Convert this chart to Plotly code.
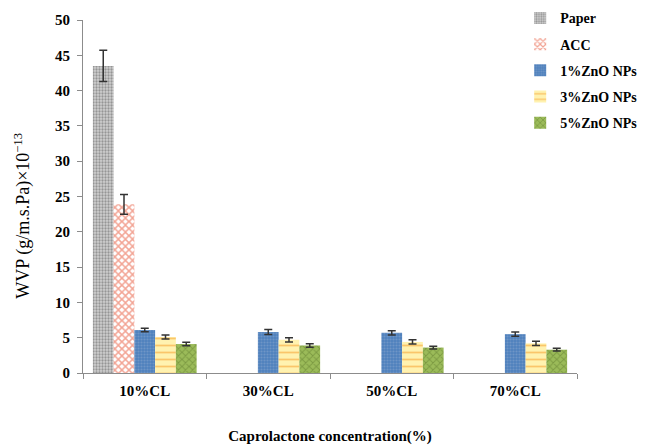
import plotly.graph_objects as go

categories = ["10%CL", "30%CL", "50%CL", "70%CL"]
series_names = ["Paper", "ACC", "1%ZnO NPs", "3%ZnO NPs", "5%ZnO NPs"]
paper = [43.5, None, None, None]
acc = [23.9, None, None, None]
zno1 = [6.1, 5.8, 5.7, 5.5]
zno3 = [5.1, 4.7, 4.4, 4.2]
zno5 = [4.1, 3.9, 3.6, 3.3]
paper_err = [2.2, None, None, None]
acc_err = [1.4, None, None, None]
zno1_err = [0.25, 0.35, 0.3, 0.3]
zno3_err = [0.3, 0.3, 0.3, 0.3]
zno5_err = [0.25, 0.25, 0.2, 0.2]
y_title = "WVP (g/m.s.Pa)×10<sup>−13</sup>"
x_title = "Caprolactone concentration(%)"

values = [paper, acc, zno1, zno3, zno5]
errors = [paper_err, acc_err, zno1_err, zno3_err, zno5_err]
styles = [
    dict(bgcolor="#d0d0d0", fgcolor="#5a5a5a", shape=".", size=3, solidity=0.45),
    dict(bgcolor="#ffffff", fgcolor="#e5492a", shape="x", size=5, solidity=0.5),
    dict(bgcolor="#4f81bd", fgcolor="#8ea9cf", shape=".", size=3, solidity=0.4),
    dict(bgcolor="#fff2b0", fgcolor="#f59a23", shape="-", size=7, solidity=0.25),
    dict(bgcolor="#9bbb59", fgcolor="#5f7a2e", shape="x", size=5, solidity=0.35),
]

fig = go.Figure()
for name, vals, errs, st in zip(series_names, values, errors, styles):
    fig.add_trace(go.Bar(
        x=categories, y=vals, name=name, legendgroup=name,
        marker=dict(color=st["bgcolor"], line=dict(width=0),
                    pattern=dict(shape=st["shape"], fgcolor=st["fgcolor"],
                                 bgcolor=st["bgcolor"], size=st["size"],
                                 solidity=st["solidity"], fillmode="overlay")),
        error_y=dict(type="data", array=errs, visible=True, color="#333333",
                     thickness=1.5, width=4),
    ))

font_family = "Liberation Serif"
fig.update_layout(
    width=645, height=437,
    margin=dict(l=75, r=76, t=12, b=72, autoexpand=False),
    plot_bgcolor="white", paper_bgcolor="white",
    barmode="group", bargap=0.16, bargroupgap=0,
    font=dict(family=font_family, color="black"),
    legend=dict(x=0.885, y=1.05, xanchor="left", yanchor="top",
                font=dict(family=font_family, size=14, color="black", weight="bold"),
                itemwidth=30, tracegroupgap=5, traceorder="grouped",
                bgcolor="rgba(0,0,0,0)"),
    xaxis=dict(
        automargin=False,
        showline=True, linecolor="#8c8c8c", linewidth=1,
        ticks="outside", tickson="boundaries", ticklen=5, tickcolor="#8c8c8c",
        ticklabelstandoff=4,
        tickfont=dict(family=font_family, size=15, color="black", weight="bold"),
        title=dict(text=x_title, standoff=35,
                   font=dict(family=font_family, size=15, color="black", weight="bold")),
    ),
    yaxis=dict(
        automargin=False,
        range=[0, 50], dtick=5, showgrid=False, zeroline=False,
        showline=True, linecolor="#8c8c8c", linewidth=1,
        ticks="outside", ticklen=5, tickcolor="#8c8c8c",
        ticklabelstandoff=4,
        tickfont=dict(family=font_family, size=15, color="black", weight="bold"),
    ),
    annotations=[dict(
        text=y_title, textangle=-90, showarrow=False,
        xref="paper", yref="paper", x=-0.122, y=0.445,
        xanchor="center", yanchor="middle",
        font=dict(family=font_family, size=18, color="black"),
    )],
)

fig.write_html("out.html")
